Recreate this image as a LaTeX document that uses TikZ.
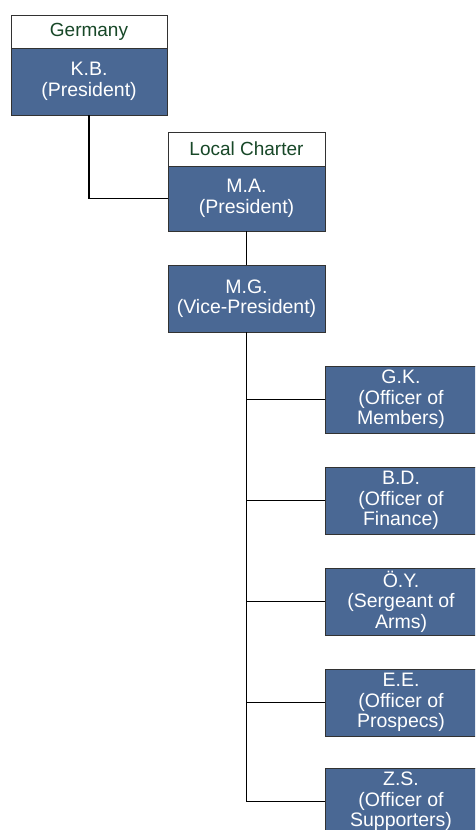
\documentclass[tikz,border=0pt]{standalone}
\usepackage{fontspec}
\setmainfont{Liberation Sans}
\definecolor{boxblue}{RGB}{74,104,148}
\definecolor{hdrgreen}{RGB}{24,72,40}
\definecolor{edge}{RGB}{50,50,50}
\begin{document}
\begin{tikzpicture}[x=1pt,y=-1pt,
  body/.style={draw=edge,line width=0.8pt,fill=boxblue,text=white,align=center,
    inner sep=0pt,font=\fontsize{19.5}{20.5}\selectfont},
  header/.style={draw=edge,line width=0.8pt,fill=white,text=hdrgreen,align=center,
    inner sep=0pt,font=\fontsize{19}{20}\selectfont},
  link/.style={draw=black,line width=1.3pt}]
\useasboundingbox (0,0) rectangle (475,830);
\clip (0,0) rectangle (475,830);
\fill[white] (0,0) rectangle (475,830);
% top-left
\node[header,minimum width=156pt,minimum height=33pt] (ger) at (89,31.5) {Germany};
\node[body,minimum width=156pt,minimum height=67pt] (kb) at (89,81.5) {K.B.\\(President)};
% local charter
\node[header,minimum width=157pt,minimum height=34pt] (lc) at (246.5,149) {Local Charter};
\node[body,minimum width=157pt,minimum height=65pt] (ma) at (246.5,198.5) {M.A.\\(President)};
\node[body,minimum width=157pt,minimum height=67pt] (mg) at (246.5,298.5) {M.G.\\(Vice-President)};
% officers
\node[body,minimum width=152pt,minimum height=67pt] (gk) at (401,399.5) {G.K.\\(Officer of\\Members)};
\node[body,minimum width=152pt,minimum height=67pt] (bd) at (401,500.5) {B.D.\\(Officer of\\Finance)};
\node[body,minimum width=152pt,minimum height=67pt] (oy) at (401,601.5) {Ö.Y.\\(Sergeant of\\Arms)};
\node[body,minimum width=152pt,minimum height=67pt] (ee) at (401,702.5) {E.E.\\(Officer of\\Prospecs)};
\node[body,minimum width=152pt,minimum height=67pt] (zs) at (401,801.5) {Z.S.\\(Officer of\\Supporters)};
% connectors
\draw[link] (kb.south) |- (ma.west);
\draw[link] (ma.south) -- (mg.north);
\draw[link] (mg.south) |- (zs.west);
\draw[link] (mg.south |- gk.west) -- (gk.west);
\draw[link] (mg.south |- bd.west) -- (bd.west);
\draw[link] (mg.south |- oy.west) -- (oy.west);
\draw[link] (mg.south |- ee.west) -- (ee.west);
\end{tikzpicture}
\end{document}
